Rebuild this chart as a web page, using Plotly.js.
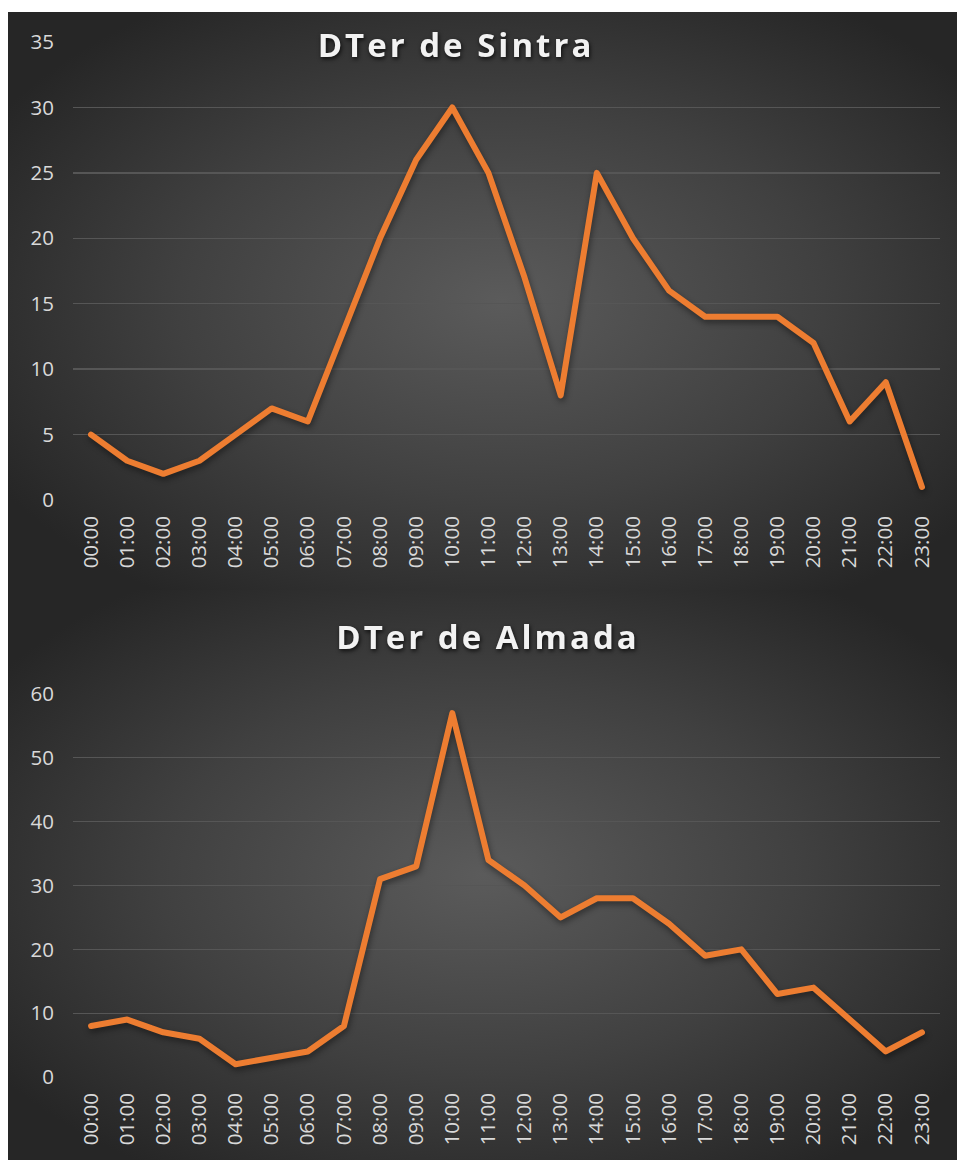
<!DOCTYPE html>
<html>
<head>
<meta charset="utf-8">
<script src="https://cdn.plot.ly/plotly-3.0.1.min.js"></script>
<style>
  html, body { margin: 0; padding: 0; background: #ffffff; }
  #wrap { position: absolute; left: 8px; top: 12px; width: 949px; height: 1148px; }
  #c1 { position: absolute; left: 0; top: 0; width: 949px; height: 578px;
        background: radial-gradient(ellipse 62% 62% at 52% 50%, #5b5b5b 0%, #404040 55%, #262626 100%); }
  #c2 { position: absolute; left: 0; top: 578px; width: 949px; height: 570px;
        background: radial-gradient(ellipse 62% 62% at 50% 50%, #5b5b5b 0%, #404040 55%, #262626 100%); }
  .gtitle { letter-spacing: 3px; filter: drop-shadow(1px 2px 2px rgba(0,0,0,0.75)); }
  .js-line { stroke-linejoin: round !important; stroke-linecap: round !important; }
  .scatterlayer { filter: drop-shadow(1px 3px 3px rgba(0,0,0,0.45)); }
</style>
</head>
<body>
<div id="wrap">
  <div id="c1"></div>
  <div id="c2"></div>
</div>
<script>
const hours = ["00:00","01:00","02:00","03:00","04:00","05:00","06:00","07:00","08:00","09:00","10:00","11:00",
               "12:00","13:00","14:00","15:00","16:00","17:00","18:00","19:00","20:00","21:00","22:00","23:00"];
const sintraTitle = "DTer de Sintra";
const almadaTitle = "DTer de Almada";
const sintra = [5,3,2,3,5,7,6,13,20,26,30,25,17,8,25,20,16,14,14,14,12,6,9,1];
const almada = [8,9,7,6,2,3,4,8,31,33,57,34,30,25,28,28,24,19,20,13,14,9,4,7];

const lineColor = "#ED7D31";
const tickFont = { family: "Open Sans, sans-serif", size: 20.5, color: "#d9d9d9" };
const titleFont = { family: "Open Sans, sans-serif", size: 33, color: "#f2f2f2", weight: "bold" };

function makeLayout(title, tx, ty, yrange, dtick, margin, h) {
  return {
    width: 949, height: h,
    paper_bgcolor: "rgba(0,0,0,0)",
    plot_bgcolor: "rgba(0,0,0,0)",
    margin: margin,
    showlegend: false,
    title: { text: title, font: titleFont, x: tx, xref: "container", xanchor: "center",
             y: ty, yref: "container", yanchor: "middle" },
    xaxis: {
      type: "category", tickangle: -90, tickfont: tickFont, showgrid: false,
      showline: false, zeroline: false, ticks: "", ticklabelstandoff: 11,
      range: [-0.5, hours.length - 0.5], fixedrange: true
    },
    yaxis: {
      range: yrange, dtick: dtick, tick0: 0, tickfont: tickFont, showgrid: true,
      gridcolor: "#565656", gridwidth: 1.3, zeroline: false, showline: false,
      ticks: "", ticklabelstandoff: 18, fixedrange: true
    }
  };
}

Plotly.newPlot("c1", [{
  x: hours, y: sintra, type: "scatter", mode: "lines",
  line: { color: lineColor, width: 6 }, hoverinfo: "skip"
}], makeLayout(sintraTitle, 448/949, 1 - 33/578, [0, 35], 5,
   { l: 65, r: 17, t: 30, b: 90 }, 578), { staticPlot: true });

Plotly.newPlot("c2", [{
  x: hours, y: almada, type: "scatter", mode: "lines",
  line: { color: lineColor, width: 6 }, hoverinfo: "skip"
}], makeLayout(almadaTitle, 480/949, 1 - 47/570, [0, 60], 10,
   { l: 65, r: 17, t: 104, b: 83 }, 570), { staticPlot: true });
</script>
</body>
</html>
